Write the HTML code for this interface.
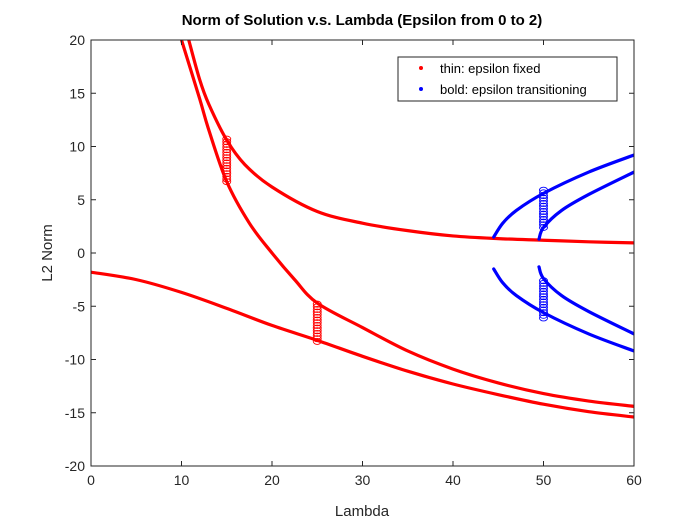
<!DOCTYPE html>
<html><head><meta charset="utf-8"><style>
body{margin:0;background:#fff}
svg{display:block;font-family:"Liberation Sans",sans-serif}
</style></head><body>
<svg id="c" width="700" height="525">
<rect width="700" height="525" fill="#fff"/>
</svg>
<script>
const xTicks=[0,10,20,30,40,50,60];
const yTicks=[-20,-15,-10,-5,0,5,10,15,20];
const upperL=[10.8,12,13,15,17,20,25,30,35,40,45,50,55,60];
const upperV=[20,16.3,14,10.6,8.3,6.2,3.9,2.8,2.1,1.6,1.35,1.2,1.05,0.95];
const midL=[10,12,13,15,17.5,20,22.5,25,30,35,40,45,50,55,60];
const midV=[20,14.5,11.6,6.7,2.8,0,-2.5,-4.7,-7.0,-9.2,-10.9,-12.2,-13.2,-13.9,-14.4];
const lowL=[0,5,10,15,20,25,30,35,40,45,50,55,60];
const lowV=[-1.8,-2.5,-3.7,-5.2,-6.8,-8.2,-9.7,-11.1,-12.3,-13.3,-14.2,-14.9,-15.4];
const b1L=[44.5,45.5,47,50,55,60];
const b1V=[1.5,2.8,4.0,5.6,7.6,9.2];
const b2L=[49.5,50,52,55,60];
const b2V=[1.3,2.4,4.0,5.5,7.6];
const circRed=[[15,6.7,10.9],[25,-8.3,-4.7]];
const circBlue=[[50,2.4,6.1],[50,-6.1,-2.5]];
const NS='http://www.w3.org/2000/svg';
const svg=document.getElementById('c');
const X0=91,X1=634,Y0=466,Y1=40;
const sx=v=>X0+(v-0)/60*(X1-X0);
const sy=v=>Y0-(v+20)/40*(Y0-Y1);
function mk(t,a){const e=document.createElementNS(NS,t);for(const k in a)e.setAttribute(k,a[k]);svg.appendChild(e);return e;}
const clip=mk('clipPath',{id:'cp'});
const cr=document.createElementNS(NS,'rect');cr.setAttribute('x',X0);cr.setAttribute('y',Y1);cr.setAttribute('width',X1-X0);cr.setAttribute('height',Y0-Y1);clip.appendChild(cr);
function smooth(P){
  let d='M'+P[0][0]+','+P[0][1];
  for(let i=0;i<P.length-1;i++){
    const p0=P[i-1]||P[i],p1=P[i],p2=P[i+1],p3=P[i+2]||P[i+1];
    const c1=[p1[0]+(p2[0]-p0[0])/6,p1[1]+(p2[1]-p0[1])/6];
    const c2=[p2[0]-(p3[0]-p1[0])/6,p2[1]-(p3[1]-p1[1])/6];
    d+=' C'+c1[0]+','+c1[1]+' '+c2[0]+','+c2[1]+' '+p2[0]+','+p2[1];
  }
  return d;
}
function line(Ls,Vs,col,sign,name){
  const P=Ls.map((l,i)=>[sx(l),sy(sign*Vs[i])]);
  const p=mk('path',{d:smooth(P),fill:'none',stroke:col,'stroke-width':3.2,'stroke-linejoin':'round','stroke-linecap':'round','clip-path':'url(#cp)'});
  
  
}
line(upperL,upperV,'#f00',1,'upper-branch');
line(midL,midV,'#f00',1,'middle-branch');
line(lowL,lowV,'#f00',1,'lower-branch');
line(b1L,b1V,'#00f',1,'blue-branch-1');
line(b2L,b2V,'#00f',1,'blue-branch-2');
line(b1L,b1V,'#00f',-1,'blue-branch-3');
line(b2L,b2V,'#00f',-1,'blue-branch-4');
function circles(arr,col,name){
  arr.forEach(c=>{for(let v=c[1];v<=c[2]+1e-6;v+=0.25){
    const e=mk('ellipse',{cx:sx(c[0]),cy:sy(v),rx:4,ry:3,fill:'none',stroke:col,'stroke-width':0.9});
    
    
  }});
}
circles(circRed,'#f00','red-transition-marker');
circles(circBlue,'#00f','blue-transition-marker');
const ax=mk('rect',{x:X0,y:Y1,width:X1-X0,height:Y0-Y1,fill:'none',stroke:'#262626','stroke-width':1});


xTicks.forEach(t=>{
  mk('line',{x1:sx(t),x2:sx(t),y1:Y0,y2:Y0-5,stroke:'#262626'});
  mk('line',{x1:sx(t),x2:sx(t),y1:Y1,y2:Y1+5,stroke:'#262626'});
  const e=mk('text',{x:sx(t),y:Y0+19,'text-anchor':'middle','font-size':14,fill:'#262626'});e.textContent=t;
  
  
});
yTicks.forEach(t=>{
  mk('line',{x1:X0,x2:X0+5,y1:sy(t),y2:sy(t),stroke:'#262626'});
  mk('line',{x1:X1,x2:X1-5,y1:sy(t),y2:sy(t),stroke:'#262626'});
  const e=mk('text',{x:X0-6,y:sy(t)+5,'text-anchor':'end','font-size':14,fill:'#262626'});e.textContent=t;
  
  
});
let e=mk('text',{x:362,y:516,'text-anchor':'middle','font-size':15,fill:'#262626'});e.textContent='Lambda';


e=mk('text',{x:52,y:253,'text-anchor':'middle','font-size':15,fill:'#262626',transform:'rotate(-90 52 253)'});e.textContent='L2 Norm';


e=mk('text',{x:362,y:25,'text-anchor':'middle','font-size':15,'font-weight':'bold',fill:'#000'});e.textContent='Norm of Solution v.s. Lambda (Epsilon from 0 to 2)';


e=mk('rect',{x:398,y:57,width:219,height:44,fill:'#fff',stroke:'#262626','stroke-width':1});


[['thin: epsilon fixed','#f00',69],['bold: epsilon transitioning','#00f',90]].forEach(r=>{
  const d=mk('circle',{cx:421,cy:r[2]-1,r:2,fill:r[1]});
  
  
  const t=mk('text',{x:440,y:r[2]+4,'font-size':13,fill:'#000'});t.textContent=r[0];
  
  
});
</script>
</body></html>
